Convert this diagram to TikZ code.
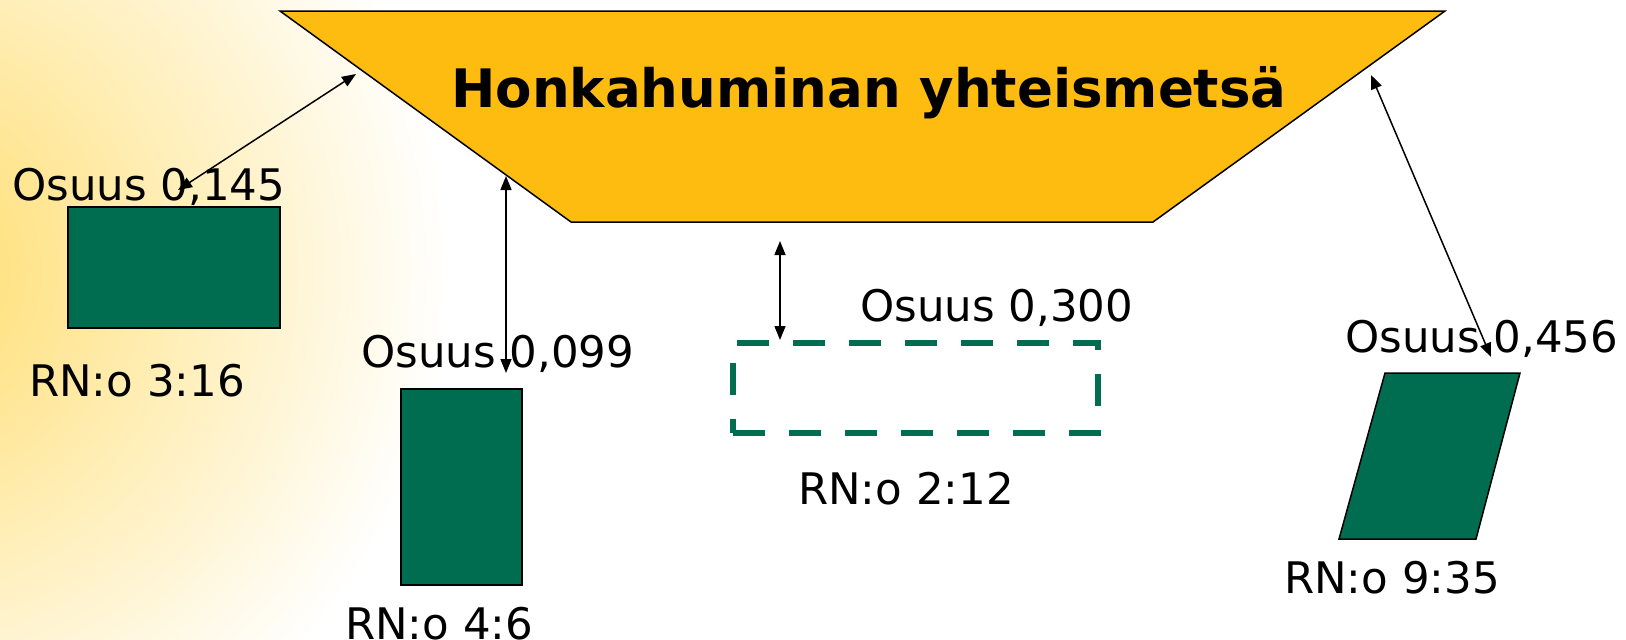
\documentclass[tikz,border=0pt]{standalone}
\usepackage{fontspec}
\setmainfont{DejaVu Sans}
\usetikzlibrary{arrows.meta}

\definecolor{kulta}{RGB}{254,188,17}
\definecolor{metsa}{RGB}{0,108,80}
\definecolor{tausta}{RGB}{255,220,105}

\tikzset{
  palsta/.style={draw=black, fill=metsa, line width=1.5pt, inner sep=0pt},
  teksti/.style={font=\fontsize{43.5}{50}\selectfont, inner sep=0pt, anchor=base west},
  nuoli/.style={line width=1.5pt, {Triangle[length=14pt,width=11pt]}-{Triangle[length=14pt,width=11pt]}},
}

\begin{document}
\begin{tikzpicture}[x=1pt,y=-1pt]
    % tausta
    \fill[white] (0,0) rectangle (1626,640);
    \begin{scope}
      \clip (0,0) rectangle (1626,640);
      \shade[inner color=tausta, outer color=white] (-110,270) circle (560);
    \end{scope}
    \useasboundingbox (0,0) rectangle (1626,640);

    % yhteismetsa
    \draw[fill=kulta, line width=1.5pt] (280,11) -- (1445,11) -- (1153,222) -- (571,222) -- cycle;
    \node[font=\fontsize{53}{60}\selectfont\bfseries, inner sep=0pt, anchor=base] (otsikko) at (869,107) {Honkahuminan yhteismetsä};

    % palstat
    \node[palsta, minimum width=212pt, minimum height=121pt] (rn316) at (174,267.5) {};
    \node[palsta, minimum width=121pt, minimum height=196pt] (rn46) at (461.5,487) {};
    \node[draw=metsa, line width=6pt, dash pattern=on 32pt off 24pt, minimum width=365pt, minimum height=90pt] (rn212) at (915.5,388) {};
    \draw[palsta] (1385,373) -- (1520,373) -- (1476,539) -- (1339,539) -- cycle;

    % tekstit
    \node[teksti] (os145) at (12,200) {Osuus 0,145};
    \node[teksti] (t316) at (29,396) {RN:o 3:16};
    \node[teksti] (os099) at (361,367) {Osuus 0,099};
    \node[teksti] (t46) at (345,639) {RN:o 4:6};
    \node[teksti] (os300) at (860,321) {Osuus 0,300};
    \node[teksti] (t212) at (798,504) {RN:o 2:12};
    \node[teksti] (os456) at (1345,352) {Osuus 0,456};
    \node[teksti] (t935) at (1284,593) {RN:o 9:35};

    % nuolet
    \coordinate (y1) at (356,74);
    \coordinate (p1) at (178,190);
    \coordinate (y2) at (506,176);
    \coordinate (p2) at (506,373);
    \coordinate (y3) at (780,241);
    \coordinate (y4) at (1371,75);
    \coordinate (p4) at (1491,357);
    \draw[nuoli] (y1) -- (p1);
    \draw[nuoli] (y2) -- (p2);
    \draw[nuoli] (y3) -- (y3 |- rn212.north);
    \draw[nuoli] (y4) -- (p4);
\end{tikzpicture}
\end{document}
